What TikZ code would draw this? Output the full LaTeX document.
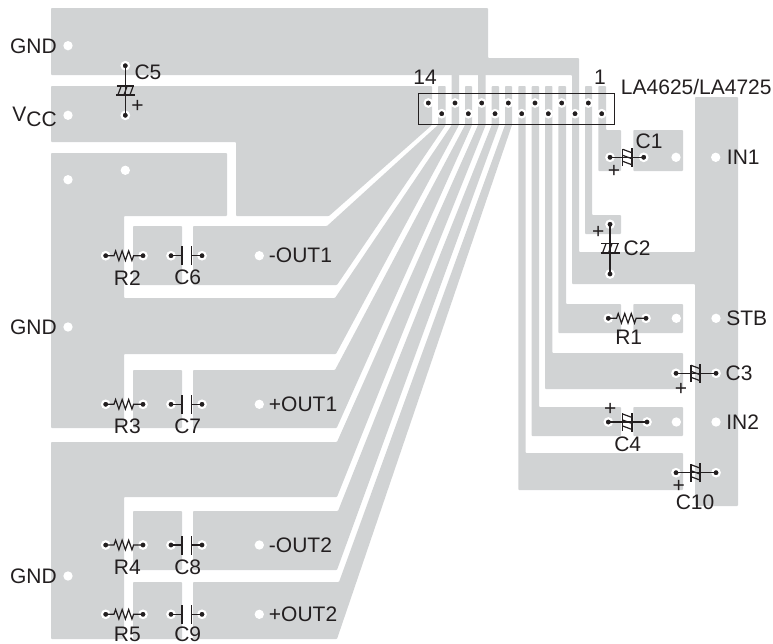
\documentclass[tikz,border=0pt]{standalone}
\usepackage{fontspec}
\setmainfont{Liberation Sans}
\usepackage{tikz}
\usetikzlibrary{decorations.pathmorphing}

\definecolor{padgray}{HTML}{D1D3D4}
\definecolor{inkblack}{HTML}{231F20}

\tikzset{
  pad/.style={fill=padgray,rounded corners=0.6pt},
  hole/.style={circle,fill=white,inner sep=0pt,minimum size=7pt},
  pin/.style={circle,fill=inkblack,draw=white,line width=1.6pt,inner sep=0pt,minimum size=5.6pt},
  lead/.style={draw=inkblack,line width=1.1pt},
  reslead/.style={lead,line width=0.9pt,decorate,decoration={zigzag,segment length=4.9pt,amplitude=3.6pt,pre length=6.2pt,post length=5.2pt}},
  pcblabel/.style={font=\fontsize{15.75}{18}\selectfont,text=inkblack,inner sep=0pt},
  capbar/.pic={\draw[inkblack,line width=1.4pt] (0,-9.5) -- (0,9.5);},
  polcap/.pic={
    \draw[inkblack,line width=1.1pt] (-4.7,-8.8) -- (-4.7,8.8);
    \draw[inkblack,line width=1.5pt] (4.7,-9.5) -- (4.7,9.5);
    \draw[inkblack,line width=0.9pt] (-4.7,8) -- (4.7,4.5) (-4.7,2) -- (4.7,-1.5) (-4.7,-4) -- (4.7,-7.5);
  },
}

\begin{document}
\begin{tikzpicture}[x=0.75pt,y=0.75pt,yscale=-1,xscale=1]
\path[use as bounding box] (0,0) rectangle (773,643);

%Shape: GND and IN rail
\fill[pad] (51,8) -- (488,8) -- (488,58) -- (579,58) -- (579,252) -- (695,252) -- (695,97) -- (738,97) -- (738,506) -- (695,506) -- (695,284) -- (572,284) -- (572,75) -- (51,75) -- cycle;
%Shape: VCC
\fill[pad] (51,86) -- (432,86) -- (432,125) -- (329,216) -- (236,216) -- (236,142) -- (51,142) -- cycle;
%Shape: middle GND
\fill[pad] (51,153) -- (227,153) -- (227,216) -- (124,216) -- (124,298) -- (335,298) -- (451.7,125) -- (451.7,70) -- (459,70) -- (459,125) -- (336,354) -- (124,354) -- (124,428) -- (51,428) -- cycle;
%Shape: lower GND
\fill[pad] (51,442) -- (337,442) -- (478,125) -- (478,70) -- (485.7,70) -- (485.7,125) -- (337,497) -- (124,497) -- (124,639) -- (51,639) -- cycle;
%Shape: -OUT1
\fill[pad] (133,226) -- (182,226) -- (182,285) -- (133,285) -- cycle;
\fill[pad] (193,226) -- (327,226) -- (438,125) -- (438,86) -- (445.7,86) -- (445.7,125) -- (337,285) -- (193,285) -- cycle;
%Shape: +OUT1
\fill[pad] (133,370) -- (182,370) -- (182,428) -- (133,428) -- cycle;
\fill[pad] (193,370) -- (335,370) -- (465,125) -- (465,86) -- (472,86) -- (472,125) -- (336.7,428) -- (193,428) -- cycle;
%Shape: -OUT2
\fill[pad] (133,511) -- (182,511) -- (182,570) -- (133,570) -- cycle;
\fill[pad] (193,511) -- (338,511) -- (491.7,125) -- (491.7,86) -- (499,86) -- (499,125) -- (337,570) -- (193,570) -- cycle;
%Shape: +OUT2
\fill[pad] (133,582) -- (182,582) -- (182,639) -- (133,639) -- cycle;
\fill[pad] (193,582) -- (339,582) -- (505,125) -- (505,86) -- (512,86) -- (512,125) -- (337,639) -- (193,639) -- cycle;
%Shape: C10 pad
\fill[pad] (518.3,86) -- (525.7,86) -- (525.7,453) -- (683,453) -- (683,490) -- (518.3,490) -- cycle;
%Shape: C4 pads
\fill[pad] (531.7,86) -- (539,86) -- (539,407) -- (621,407) -- (621,436) -- (531.7,436) -- cycle;
\fill[pad] (633.3,407) -- (683,407) -- (683,436) -- (633.3,436) -- cycle;
%Shape: C3 pad
\fill[pad] (545,86) -- (552.3,86) -- (552.3,353) -- (683,353) -- (683,389) -- (545,389) -- cycle;
%Shape: R1 pads
\fill[pad] (558.3,86) -- (566,86) -- (566,304) -- (621,304) -- (621,333) -- (558.3,333) -- cycle;
\fill[pad] (633.3,304) -- (683,304) -- (683,333) -- (633.3,333) -- cycle;
%Shape: C2 pad
\fill[pad] (585,86) -- (592,86) -- (592,215) -- (621,215) -- (621,234) -- (585,234) -- cycle;
%Shape: C1 pads
\fill[pad] (598.3,86) -- (606,86) -- (606,130) -- (621,130) -- (621,171) -- (598.3,171) -- cycle;
\fill[pad] (633.3,130) -- (683,130) -- (683,171) -- (633.3,171) -- cycle;

%Shape: IC outline
\draw[inkblack,line width=0.9pt] (418.3,93.3) rectangle (614.3,124.7);

% IC pins
\node (p1) [pin] at (601.7,113.7) {};
\node (p2) [pin] at (588.3,103) {};
\node (p3) [pin] at (575,113.7) {};
\node (p4) [pin] at (561.7,103) {};
\node (p5) [pin] at (548.3,113.7) {};
\node (p6) [pin] at (535,103) {};
\node (p7) [pin] at (521.7,113.7) {};
\node (p8) [pin] at (508.3,103) {};
\node (p9) [pin] at (495,113.7) {};
\node (p10) [pin] at (481.7,103) {};
\node (p11) [pin] at (468.3,113.7) {};
\node (p12) [pin] at (455,103) {};
\node (p13) [pin] at (441.7,113.7) {};
\node (p14) [pin] at (428.3,103) {};

% Terminal holes
\node (hgnda) [hole] at (68,45.7) {};
\node (hvcc) [hole] at (68,115.3) {};
\node (hspa) [hole] at (68,179.7) {};
\node (hspb) [hole] at (125.3,170.3) {};
\node (hgndb) [hole] at (68,327) {};
\node (hgndc) [hole] at (68,576) {};
\node (hoa) [hole] at (259.3,255.7) {};
\node (hob) [hole] at (259.3,404.3) {};
\node (hoc) [hole] at (259.3,545) {};
\node (hod) [hole] at (259.3,614.3) {};
\node (hina) [hole] at (676,157.3) {};
\node (hinb) [hole] at (715.7,157.3) {};
\node (hsa) [hole] at (676.3,318.3) {};
\node (hsb) [hole] at (716,318.3) {};
\node (hia) [hole] at (676.3,422) {};
\node (hib) [hole] at (716,422) {};

% Component pins
\node (c5a) [pin] at (125.3,65.7) {};
\node (c5b) [pin] at (125.3,115.3) {};
\node (c1a) [pin] at (610,157.3) {};
\node (c1b) [pin] at (643.7,157.3) {};
\node (c2a) [pin] at (610,224.3) {};
\node (c2b) [pin] at (610,274) {};
\node (r1a) [pin] at (608.3,318.3) {};
\node (r1b) [pin] at (646,318.3) {};
\node (c3a) [pin] at (676,373.3) {};
\node (c3b) [pin] at (716,373.3) {};
\node (c4a) [pin] at (608.3,422) {};
\node (c4b) [pin] at (647,422) {};
\node (c10a) [pin] at (676,472.7) {};
\node (c10b) [pin] at (716,472.7) {};
\node (r2a) [pin] at (105.7,255.7) {};
\node (r2b) [pin] at (143,255.7) {};
\node (c6a) [pin] at (171,255.7) {};
\node (c6b) [pin] at (202,255.7) {};
\node (r3a) [pin] at (105.7,404.3) {};
\node (r3b) [pin] at (143,404.3) {};
\node (c7a) [pin] at (171,404.3) {};
\node (c7b) [pin] at (202,404.3) {};
\node (r4a) [pin] at (105.7,545) {};
\node (r4b) [pin] at (143,545) {};
\node (c8a) [pin] at (171,545) {};
\node (c8b) [pin] at (202,545) {};
\node (r5a) [pin] at (105.7,614.3) {};
\node (r5b) [pin] at (143,614.3) {};
\node (c9a) [pin] at (171,614.3) {};
\node (c9b) [pin] at (202,614.3) {};

% Plate positions
\coordinate (c6l) at (182,255.7);
\coordinate (c6r) at (191.5,255.7);
\coordinate (c7l) at (182,404.3);
\coordinate (c7r) at (191.5,404.3);
\coordinate (c8l) at (182,545);
\coordinate (c8r) at (191.5,545);
\coordinate (c9l) at (182,614.3);
\coordinate (c9r) at (191.5,614.3);

%Straight Lines
\draw[lead] (c5a.center) -- (c5b.center);
\draw[lead] (c1a.center) -- (c1b.center);
\draw[lead] (c2a.center) -- (c2b.center);
\draw[lead] (c3a.center) -- (c3b.center);
\draw[lead] (c4a.center) -- (c4b.center);
\draw[lead] (c10a.center) -- (c10b.center);
\draw[lead] (c6a.center) -- (c6l) pic {capbar};
\draw[lead] (c6b.center) -- (c6r) pic {capbar};
\draw[lead] (c7a.center) -- (c7l) pic {capbar};
\draw[lead] (c7b.center) -- (c7r) pic {capbar};
\draw[lead] (c8a.center) -- (c8l) pic {capbar};
\draw[lead] (c8b.center) -- (c8r) pic {capbar};
\draw[lead] (c9a.center) -- (c9l) pic {capbar};
\draw[lead] (c9b.center) -- (c9r) pic {capbar};

%Resistors
\draw[reslead] (r1a.center) -- (r1b.center);
\draw[reslead] (r2a.center) -- (r2b.center);
\draw[reslead] (r3a.center) -- (r3b.center);
\draw[reslead] (r4a.center) -- (r4b.center);
\draw[reslead] (r5a.center) -- (r5b.center);

%Polarised capacitors
\path (125.3,90.5) pic [rotate=-90] {polcap};
\path (610,248.3) pic [rotate=-90] {polcap};
\path (627.4,157.3) pic {polcap};
\path (695.7,373.3) pic {polcap};
\path (627.4,422) pic {polcap};
\path (695.7,472.7) pic {polcap};

% Text Node
\node (lgnda) [pcblabel,anchor=east] at (57,46) {GND};
\node (lvcc) [pcblabel,anchor=east] at (57,117) {V\raisebox{-4pt}{CC}};
\node (lgndb) [pcblabel,anchor=east] at (57,327) {GND};
\node (lgndc) [pcblabel,anchor=east] at (57,576) {GND};
% Text Node
\node (lic) [pcblabel,anchor=west] at (620.7,87.3) {LA4625/LA4725};
\node (lfourteen) [pcblabel] at (425,77.3) {14};
\node (lone) [pcblabel] at (600,77.3) {1};
% Text Node
\node (lc5) [pcblabel] at (148,72) {C5};
\node (lc1) [pcblabel] at (649,141) {C1};
\node (lc2) [pcblabel] at (637,248.7) {C2};
\node (lc3) [pcblabel] at (739,373.7) {C3};
\node (lc4) [pcblabel] at (627.7,444.7) {C4};
\node (lc10) [pcblabel] at (695,502.5) {C10};
\node (lr1) [pcblabel] at (628.7,337.3) {R1};
% Text Node
\node (lr2) [pcblabel] at (127.3,277.7) {R2};
\node (lc6) [pcblabel] at (187.7,277.7) {C6};
\node (lr3) [pcblabel] at (127.3,426) {R3};
\node (lc7) [pcblabel] at (187.7,426) {C7};
\node (lr4) [pcblabel] at (127.3,567.7) {R4};
\node (lc8) [pcblabel] at (187.7,567.7) {C8};
\node (lr5) [pcblabel] at (127.3,634.5) {R5};
\node (lc9) [pcblabel] at (187.7,634.5) {C9};
% Text Node
\node (loa) [pcblabel,anchor=west] at (268.7,255.7) {-OUT1};
\node (lob) [pcblabel,anchor=west] at (268.7,404.3) {+OUT1};
\node (loc) [pcblabel,anchor=west] at (268.7,545) {-OUT2};
\node (lod) [pcblabel,anchor=west] at (268.7,614.3) {+OUT2};
\node (lina) [pcblabel,anchor=west] at (726.7,157.3) {IN1};
\node (lstb) [pcblabel,anchor=west] at (726,318.3) {STB};
\node (linb) [pcblabel,anchor=west] at (726,422) {IN2};
% Text Node
\node (pca) [pcblabel] at (137.5,106) {+};
\node (pcb) [pcblabel] at (614,171) {+};
\node (pcc) [pcblabel] at (598.3,232.7) {+};
\node (pcd) [pcblabel] at (681,389.3) {+};
\node (pce) [pcblabel] at (610.3,409) {+};
\node (pcf) [pcblabel] at (678.7,486) {+};

\end{tikzpicture}
\end{document}
